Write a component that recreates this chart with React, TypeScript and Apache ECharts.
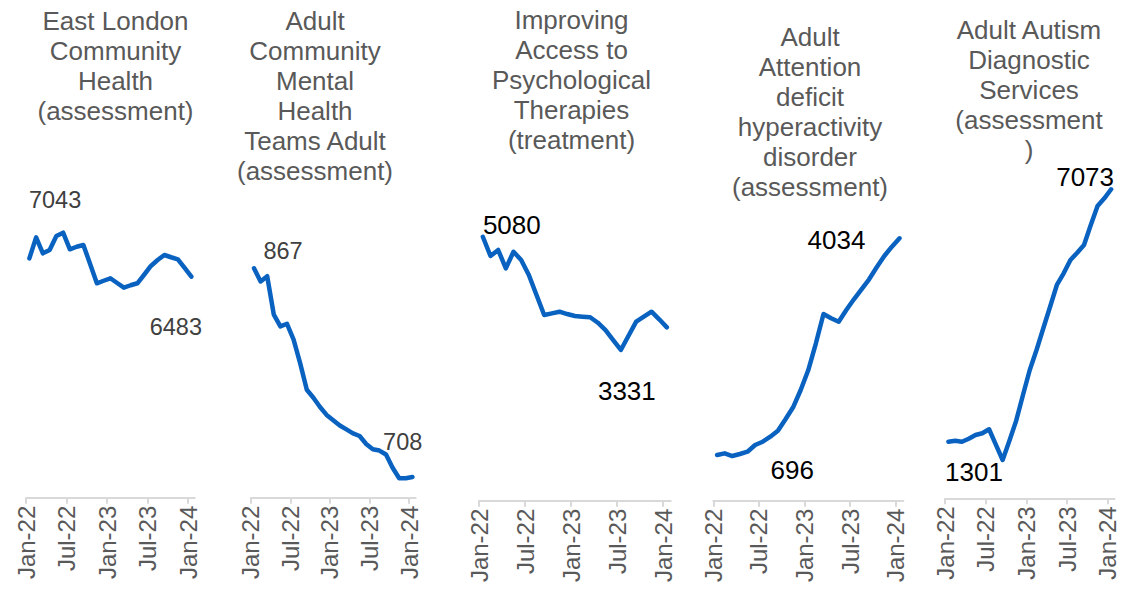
import React, { useEffect, useRef } from "react";
import * as echarts from "echarts";

// Month index 0 = Jan-22 ... 24 = Jan-24
const tickMonths = [0, 6, 12, 18, 24];
const tickLabels = ["Jan-22", "Jul-22", "Jan-23", "Jul-23", "Jan-24"];

const titles = [
  "East London\nCommunity\nHealth\n(assessment)",
  "Adult\nCommunity\nMental\nHealth\nTeams Adult\n(assessment)",
  "Improving\nAccess to\nPsychological\nTherapies\n(treatment)",
  "Adult\nAttention\ndeficit\nhyperactivity\ndisorder\n(assessment)",
  "Adult Autism\nDiagnostic\nServices\n(assessment\n)",
];

const eastLondon = [6782, 6996, 6833, 6867, 7009, 7043, 6874, 6900, 6918, 6724, 6528, 6554, 6579, 6531, 6483, 6508, 6528, 6615, 6704, 6765, 6816, 6793, 6772, 6684, 6595];
const cmhtAdult = [867, 857, 861, 832, 823, 825, 813, 795, 775, 769, 762, 756, 752, 748, 745, 742, 740, 734, 730, 729, 726, 716, 708, 708, 709];
const iapt = [5080, 4782, 4875, 4592, 4848, 4720, 4489, 4180, 3871, 3897, 3922, 3886, 3856, 3845, 3836, 3752, 3639, 3485, 3331, 3551, 3768, 3845, 3922, 3805, 3681];
const adhd = [711, 737, 696, 727, 762, 865, 915, 992, 1084, 1259, 1443, 1708, 2014, 2424, 2873, 2807, 2755, 2934, 3098, 3252, 3405, 3589, 3762, 3905, 4034];
const autism = [1691, 1712, 1691, 1755, 1834, 1870, 1956, 1627, 1301, 1712, 2139, 2687, 3220, 3646, 4109, 4569, 5032, 5281, 5565, 5721, 5885, 6311, 6716, 6880, 7073];

const seriesValues = [eastLondon, cmhtAdult, iapt, adhd, autism];
// indices of labelled points (max / min)
const labelledPoints = [[5, 14], [0, 22], [0, 18], [2, 24], [8, 24]];

export default function App() {
  const ref = useRef<HTMLDivElement>(null);

  useEffect(() => {
    if (!ref.current) return;
    const chart = echarts.init(ref.current, null, { renderer: "svg" });
    const font = "'Liberation Sans', Arial, sans-serif";

    // layout (pixels) per panel
    const panels = [
      { left: 26, width: 168.75, axisY: 497.7, yMin: 4345, yMax: 7885, titleX: 115.5, titleY: 6, labelColor: "#404040", labelSize: 23.5, offsets: [[-8, -33], [52, 39]] },
      { left: 250.7, width: 165, axisY: 497.7, yMin: 693.3, yMax: 956.6, titleX: 315, titleY: 6, labelColor: "#404040", labelSize: 23.5, offsets: [[29, -17], [3.5, -36.6]] },
      { left: 479, width: 191.7, axisY: 500.7, yMin: 1004, yMax: 6419, titleX: 571.5, titleY: 5, labelColor: "#000000", labelSize: 26, offsets: [[29, -12], [6, 41]] },
      { left: 713.3, width: 190, axisY: 500.7, yMin: 11, yMax: 5387, titleX: 810, titleY: 22, labelColor: "#000000", labelSize: 26, offsets: [[60, 14], [-63, 2]] },
      { left: 945, width: 169.5, axisY: 498.3, yMin: 484, yMax: 7910, titleX: 1029, titleY: 15, labelColor: "#000000", labelSize: 26, offsets: [[-28.6, 11.7], [-26, -12.6]] },
    ];
    const gridTop = 150;

    const grid = panels.map((p) => ({
      left: p.left,
      width: p.width,
      top: gridTop,
      height: p.axisY - gridTop,
    }));

    const xAxis = panels.map((p, i) => ({
      type: "value",
      gridIndex: i,
      min: 0,
      max: 25,
      splitLine: { show: false },
      axisLine: { show: true, lineStyle: { color: "#d9d9d9", width: 2 } },
      axisTick: { show: true, customValues: tickMonths, length: 6, lineStyle: { color: "#d9d9d9", width: 2 } },
      axisLabel: {
        show: true,
        customValues: tickMonths,
        formatter: (v: number) => {
          const k = tickMonths.indexOf(v);
          return k >= 0 ? tickLabels[k] : "";
        },
        rotate: 90,
        margin: 8,
        fontSize: 24,
        fontFamily: font,
        color: "#595959",
      },
    }));

    const yAxis = panels.map((p, i) => ({
      type: "value",
      gridIndex: i,
      min: p.yMin,
      max: p.yMax,
      show: false,
      splitLine: { show: false },
    }));

    const series = panels.map((p, i) => ({
      type: "line",
      xAxisIndex: i,
      yAxisIndex: i,
      showSymbol: true,
      showAllSymbol: true,
      symbol: "circle",
      symbolSize: 1,
      silent: true,
      lineStyle: { color: "#0A62C0", width: 4.5, cap: "round", join: "round" },
      itemStyle: { color: "#0A62C0" },
      label: { show: false },
      data: seriesValues[i].map((v, m) => {
        const li = labelledPoints[i].indexOf(m);
        if (li >= 0) {
          return {
            value: [m + 0.5, v],
            label: {
              show: true,
              position: "inside",
              offset: p.offsets[li],
              formatter: (prm: any) => String(prm.value[1]),
              color: p.labelColor,
              fontSize: p.labelSize,
              fontFamily: font,
            },
          };
        }
        return [m + 0.5, v];
      }),
    }));

    const graphic = panels.map((p, i) => ({
      type: "text",
      x: p.titleX,
      y: p.titleY,
      style: {
        text: titles[i],
        align: "center",
        verticalAlign: "top",
        fontSize: 26,
        lineHeight: 30,
        fontFamily: font,
        fill: "#595959",
      },
    }));

    chart.setOption({
      animation: false,
      backgroundColor: "#ffffff",
      grid,
      xAxis,
      yAxis,
      series,
      graphic,
    } as any);

    return () => chart.dispose();
  }, []);

  return (
    <div
      ref={ref}
      style={{ position: "absolute", left: 0, top: 0, width: 1128, height: 592 }}
    />
  );
}
